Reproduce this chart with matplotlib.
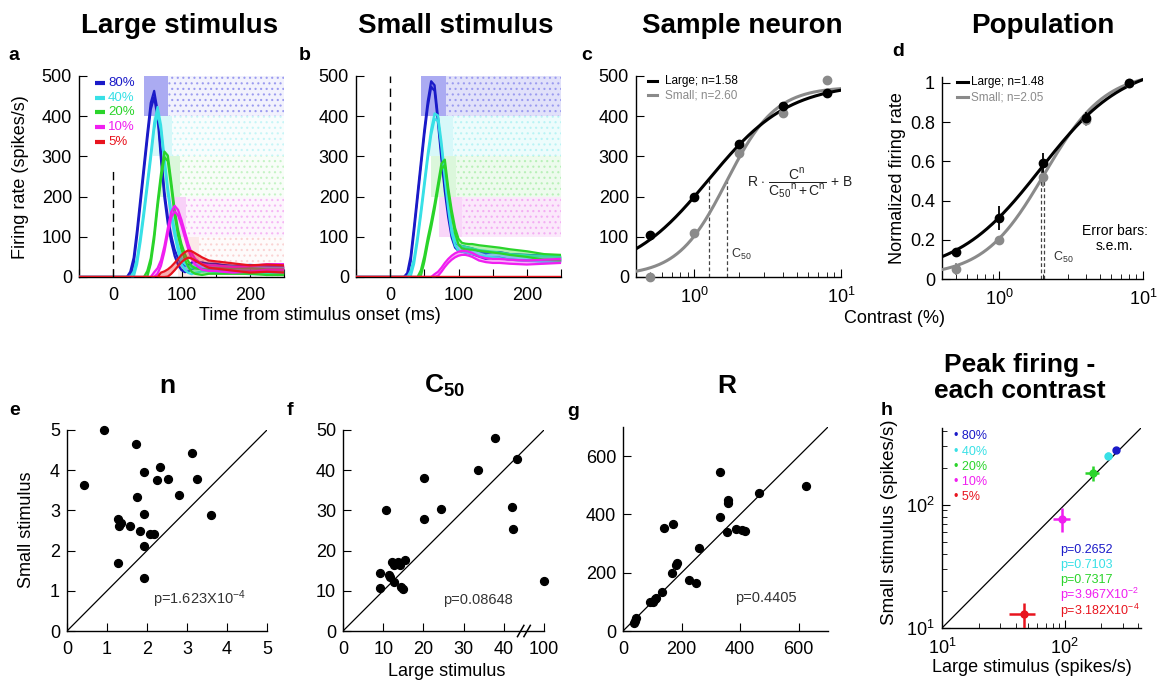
import numpy as np
import matplotlib
matplotlib.use("Agg")
import matplotlib.pyplot as plt
from matplotlib.patches import Rectangle
from matplotlib.colors import to_rgb
from matplotlib.ticker import FixedLocator, NullFormatter, LogLocator, FixedFormatter

plt.rcParams.update({
    'font.family': ['Liberation Sans', 'DejaVu Sans'],
    'mathtext.fontset': 'custom',
    'mathtext.rm': 'Liberation Sans',
    'mathtext.it': 'Liberation Sans:italic',
    'mathtext.bf': 'Liberation Sans:bold',
    'axes.linewidth': 1.0,
    'xtick.direction': 'in',
    'ytick.direction': 'in',
    'xtick.major.size': 6,
    'ytick.major.size': 6,
    'xtick.minor.size': 3.5,
    'ytick.minor.size': 3.5,
    'xtick.major.pad': 7,
    'ytick.major.pad': 5,
    'xtick.labelsize': 13,
    'ytick.labelsize': 13,
    'hatch.linewidth': 0.8,
})

# ---------------------------------------------------------------- data
contrast_labels = ['80%', '40%', '20%', '10%', '5%']

# firing-rate time courses (spikes/s), sampled at these times (ms)
time_ms = [-50, 0, 20, 25, 30, 35, 40, 45, 50, 55, 60, 65, 70, 75, 80, 85, 90, 95,
           100, 105, 110, 115, 120, 130, 140, 150, 160, 175, 200, 225, 250]

large_80 = [0, 0, 0, 5, 40, 110, 190, 270, 350, 425, 455, 405, 300, 205, 140, 95, 60, 38,
            25, 20, 22, 28, 30, 28, 25, 25, 22, 20, 22, 20, 18]
large_40 = [0, 0, 0, 0, 5, 40, 95, 160, 230, 300, 375, 415, 370, 290, 215, 155, 110, 70,
            40, 25, 18, 15, 18, 22, 22, 20, 18, 18, 15, 15, 15]
large_20 = [0, 0, 0, 0, 0, 0, 0, 0, 8, 40, 100, 180, 250, 305, 295, 230, 160, 110,
            75, 50, 32, 20, 15, 12, 15, 15, 15, 15, 15, 12, 12]
large_10 = [0, 0, 0, 0, 0, 0, 0, 0, 0, 0, 5, 15, 35, 70, 115, 155, 170, 160,
            135, 105, 75, 52, 38, 25, 22, 22, 20, 18, 20, 25, 25]
large_5 = [0, 0, 0, 0, 0, 0, 0, 0, 0, 0, 0, 0, 2, 5, 10, 17, 26, 36,
           46, 53, 57, 55, 50, 40, 32, 30, 28, 25, 20, 22, 20]

small_80 = [0, 0, 0, 3, 45, 120, 200, 280, 360, 430, 480, 470, 390, 300, 220, 155, 105, 80,
            72, 70, 68, 66, 64, 58, 52, 55, 55, 50, 48, 46, 45]
small_40 = [0, 0, 0, 0, 8, 40, 95, 160, 230, 300, 360, 400, 395, 330, 250, 175, 115, 85,
            72, 70, 68, 66, 64, 60, 58, 56, 54, 50, 47, 45, 45]
small_20 = [0, 0, 0, 0, 0, 0, 0, 10, 45, 90, 130, 175, 225, 275, 285, 215, 160, 115,
            88, 78, 76, 75, 75, 72, 70, 68, 66, 62, 57, 50, 48]
small_10 = [0, 0, 0, 0, 0, 0, 0, 0, 0, 0, 0, 2, 8, 18, 30, 40, 48, 54,
            58, 60, 60, 58, 55, 46, 42, 40, 40, 38, 36, 38, 40]
small_5 = [0] * 31

large_sem = [8, 8, 7, 7, 9]
small_sem = [7, 7, 7, 5, 0]

# spike raster windows (ms): burst onset, burst end; sparse firing continues to 250 ms
large_burst_start = [45, 58, 68, 80, 95]
large_burst_end = [80, 86, 98, 106, 125]
small_burst_start = [45, 58, 60, 72]
small_burst_end = [82, 92, 96, 105]

# contrast response (sample neuron and population)
contrast = [0.5, 1, 2, 4, 8]
sample_large = [104, 198, 330, 425, 458]
sample_large_err = [8, 10, 12, 9, 10]
sample_small = [0, 110, 308, 408, 490]
sample_small_err = [4, 8, 10, 8, 8]
pop_large = [0.14, 0.31, 0.59, 0.82, 1.0]
pop_large_err = [0.02, 0.06, 0.05, 0.03, 0.01]
pop_small = [0.05, 0.20, 0.52, 0.81, 1.0]
pop_small_err = [0.03, 0.02, 0.05, 0.03, 0.01]

# Naka-Rushton fits: R, C50, n, B
sample_fit_large = (480, 1.25, 1.58, 2)
sample_fit_small = (470, 1.66, 2.60, 3)
pop_fit_large = (1.087, 1.94, 1.48, 0.018)
pop_fit_small = (1.044, 2.06, 2.05, 0.013)

# fitted parameters per neuron, large vs small stimulus
n_large = [0.92, 0.42, 1.72, 3.12, 1.93, 2.33, 2.25, 2.52, 3.25, 1.75, 2.81, 1.93, 3.61,
           1.27, 1.29, 1.35, 1.58, 1.83, 2.08, 2.18, 1.92, 1.27, 1.93]
n_small = [5.0, 3.62, 4.64, 4.42, 3.96, 4.09, 3.76, 3.77, 3.78, 3.34, 3.38, 2.90, 2.89,
           2.78, 2.60, 2.68, 2.60, 2.49, 2.41, 2.41, 2.11, 1.68, 1.31]
c50_large = [10.6, 20.2, 20.2, 24.5, 33.5, 37.8, 43.4, 42.1, 42.3, 100, 9.3, 9.1, 11.4,
             11.6, 12.2, 12.6, 13.6, 14.2, 15.5, 12.6, 14.5, 14.9]
c50_small = [30.1, 38.0, 27.8, 30.3, 40.0, 47.9, 42.7, 30.9, 25.3, 12.5, 14.5, 10.6, 13.9,
             13.5, 17.1, 16.4, 17.1, 16.4, 17.7, 12.1, 10.9, 10.4]
r_large = [332, 625, 464, 358, 359, 330, 140, 170, 356, 386, 407, 415, 259, 184, 180, 168,
           227, 250, 134, 114, 102, 91, 109, 45, 36, 40]
r_small = [546, 498, 472, 451, 438, 392, 354, 366, 340, 350, 346, 344, 286, 232, 225, 198,
           175, 163, 135, 114, 101, 101, 109, 43, 26, 34]

# peak firing per contrast (mean +/- s.e.m.)
peak_large = [265, 228, 169, 96, 46.5]
peak_large_err = [12, 15, 22, 15, 11]
peak_small = [280, 251, 181, 77, 12.9]
peak_small_err = [13, 17, 26, 17, 3]
peak_p = ['p=0.2652', 'p=0.7103', 'p=0.7317', r'p=3.967X10$^{-2}$', r'p=3.182X10$^{-4}$']

# ---------------------------------------------------------------- style
COLORS = ['#1a1ac8', '#38e0e6', '#2ad42a', '#f01ef0', '#e8141e']
LIGHT = ['#9c9cf0', '#a8f0f2', '#a6eca6', '#f2a4f2', '#f5a8a8']
GRAY = '#8a8a8a'


def tint(c, f):
    r = np.array(to_rgb(c))
    return tuple(r + (1 - r) * f)


W, H = 1161, 685
fig = plt.figure(figsize=(W / 100, H / 100), dpi=100)


def panel(x0, y0, x1, y1):
    ax = fig.add_axes([x0 / W, 1 - y1 / H, (x1 - x0) / W, (y1 - y0) / H])
    ax.spines['top'].set_visible(False)
    ax.spines['right'].set_visible(False)
    ax.patch.set_alpha(0)
    return ax


def ftext(px, py, s, **kw):
    fig.text(px / W, 1 - py / H, s, **kw)


def naka_rushton(c, R, c50, n, B):
    c = np.asarray(c, dtype=float)
    return R * c ** n / (c50 ** n + c ** n) + B


def psth_panel(ax, traces, sems, starts, ends, dense_alpha, sparse_alpha, dot_tint):
    t = np.array(time_ms, dtype=float)
    for i, (s, e) in enumerate(zip(starts, ends)):
        y0 = (4 - i) * 100
        ax.add_patch(Rectangle((s, y0), e - s, 100, facecolor=LIGHT[i],
                               alpha=dense_alpha[i], lw=0, zorder=1))
        ax.add_patch(Rectangle((e, y0), 250 - e, 100, facecolor=LIGHT[i],
                               alpha=sparse_alpha[i], lw=0, zorder=1))
        ax.add_patch(Rectangle((e, y0), 250 - e, 100, facecolor='none',
                               edgecolor=tint(LIGHT[i], dot_tint[i]), hatch='...',
                               lw=0, zorder=1))
    for i, (vals, sem) in enumerate(zip(traces, sems)):
        v = np.array(vals, dtype=float)
        up = v + sem * (v > 0)
        lo = np.clip(v - sem, 0, None)
        ax.fill_between(t, lo, up, color=COLORS[i], alpha=0.35, lw=0, zorder=3)
        ax.plot(t, up, color=COLORS[i], lw=1.6, zorder=3)
        ax.plot(t, lo, color=COLORS[i], lw=1.6, zorder=3)
    ax.set_xlim(-50, 250)
    ax.set_ylim(0, 500)
    ax.xaxis.set_major_locator(FixedLocator([-50, 0, 50, 100, 150, 200, 250]))
    ax.xaxis.set_major_formatter(FixedFormatter(['', '0', '', '100', '', '200', '']))
    ax.set_yticks([0, 100, 200, 300, 400, 500])


# ---------------------------------------------------------------- a: large stimulus
ax_a = panel(79, 76, 284, 277)
psth_panel(ax_a, [large_80, large_40, large_20, large_10, large_5], large_sem,
           large_burst_start, large_burst_end,
           [0.85, 0.45, 0.4, 0.5, 0.25], [0.12, 0.08, 0.08, 0.1, 0.04],
           [0.0, 0.35, 0.35, 0.2, 0.5])
ax_a.plot([0, 0], [0, 275], color='k', lw=1.0, ls=(0, (6, 4)), zorder=4)
for i, lab in enumerate(contrast_labels):
    yy = [0.965, 0.891, 0.821, 0.746, 0.672][i]
    ax_a.plot([0.078, 0.128], [yy, yy], transform=ax_a.transAxes, color=COLORS[i],
              lw=3, solid_capstyle='butt', zorder=6)
    ax_a.text(0.142, yy, lab, transform=ax_a.transAxes, color=COLORS[i], fontsize=9.5,
              va='center', ha='left', zorder=6)

# ---------------------------------------------------------------- b: small stimulus
ax_b = panel(356, 76, 561, 277)
psth_panel(ax_b, [small_80, small_40, small_20, small_10, small_5], small_sem,
           small_burst_start, small_burst_end,
           [0.85, 0.45, 0.4, 0.45], [0.3, 0.2, 0.2, 0.25],
           [0.0, 0.2, 0.2, 0.1])
ax_b.plot([0, 0], [0, 500], color='k', lw=1.0, ls=(0, (6, 4)), zorder=4)

ftext(21, 177, 'Firing rate (spikes/s)', rotation=90, fontsize=13, ha='center', va='center')
ftext(320, 315, 'Time from stimulus onset (ms)', fontsize=13, ha='center', va='center')


# ---------------------------------------------------------------- c, d: contrast response
def contrast_panel(ax, large, large_err, small, small_err, fit_large, fit_small, ymax):
    cc = np.logspace(np.log10(0.4), 1, 300)
    ax.plot(cc, naka_rushton(cc, *fit_small), color=GRAY, lw=2.2, zorder=3)
    ax.plot(cc, naka_rushton(cc, *fit_large), color='k', lw=2.2, zorder=3)
    ax.errorbar(contrast, small, yerr=small_err, fmt='o', color=GRAY, ms=6,
                elinewidth=1.3, capsize=0, zorder=4, clip_on=False)
    ax.errorbar(contrast, large, yerr=large_err, fmt='o', color='k', ms=6,
                elinewidth=1.3, capsize=0, zorder=4, clip_on=False)
    for fit in (fit_large, fit_small):
        c50 = fit[1]
        ax.plot([c50, c50], [0, naka_rushton(c50, *fit)], color='#444', lw=0.9,
                ls=(0, (3, 2)), zorder=2)
    ax.set_xscale('log')
    ax.set_xlim(0.4, 10)
    ax.set_ylim(0, ymax)
    ax.xaxis.set_major_locator(LogLocator(base=10, numticks=5))
    ax.xaxis.set_minor_locator(LogLocator(base=10, subs=np.arange(2, 10), numticks=10))
    ax.xaxis.set_minor_formatter(NullFormatter())


ax_c = panel(636, 76, 841, 277)
contrast_panel(ax_c, sample_large, sample_large_err, sample_small, sample_small_err,
               sample_fit_large, sample_fit_small, 500)
ax_c.set_yticks([0, 100, 200, 300, 400, 500])
for yy, lab, col in [(0.975, 'Large; n=1.58', 'k'), (0.905, 'Small; n=2.60', GRAY)]:
    ax_c.plot([0.059, 0.103], [yy, yy], transform=ax_c.transAxes, color=col, lw=2.2)
    ax_c.text(0.14, yy, lab, transform=ax_c.transAxes, color=col, fontsize=8.5,
              va='center', ha='left')
ax_c.text(0.8, 0.468, r'R $\cdot$ $\dfrac{\mathregular{C^n}}{\mathregular{C_{50}{}^n + C^n}}$ + B',
          transform=ax_c.transAxes, fontsize=10, ha='center', va='center', color='#222')
ax_c.text(0.462, 0.11, r'C$_{50}$', transform=ax_c.transAxes, fontsize=9,
          ha='left', va='center', color='#333')

ax_d = panel(942, 77, 1143, 279)
contrast_panel(ax_d, pop_large, pop_large_err, pop_small, pop_small_err,
               pop_fit_large, pop_fit_small, 1.03)
ax_d.set_yticks([0, 0.2, 0.4, 0.6, 0.8, 1.0])
ax_d.set_yticklabels(['0', '0.2', '0.4', '0.6', '0.8', '1'])
for yy, lab, col in [(0.975, 'Large; n=1.48', 'k'), (0.90, 'Small; n=2.05', GRAY)]:
    ax_d.plot([0.075, 0.13], [yy, yy], transform=ax_d.transAxes, color=col, lw=2.2)
    ax_d.text(0.145, yy, lab, transform=ax_d.transAxes, color=col, fontsize=8.5,
              va='center', ha='left')
ax_d.text(0.86, 0.2, 'Error bars:\ns.e.m.', transform=ax_d.transAxes, fontsize=10,
          ha='center', va='center', linespacing=1.15)
ax_d.text(0.55, 0.109, r'C$_{50}$', transform=ax_d.transAxes, fontsize=9,
          ha='left', va='center', color='#333')

ftext(898, 178, 'Normalized firing rate', rotation=90, fontsize=13, ha='center', va='center')
ftext(894, 319, 'Contrast (%)', fontsize=13, ha='center', va='center')

# ---------------------------------------------------------------- e: exponent n
ax_e = panel(67, 430, 267, 631)
ax_e.plot([0, 5], [0, 5], color='k', lw=0.9)
ax_e.scatter(n_large, n_small, s=32, color='k', zorder=3, clip_on=False)
ax_e.set_xlim(0, 5)
ax_e.set_ylim(0, 5)
ax_e.set_xticks(range(6))
ax_e.set_yticks(range(6))
ax_e.text(2.15, 0.8, r'p=1.623X10$^{-4}$', fontsize=10.5, color='#333', va='center')
ftext(27, 530, 'Small stimulus', rotation=90, fontsize=13, ha='center', va='center')

# ---------------------------------------------------------------- f: C50 (broken axis)
ax_f = panel(343, 430, 544, 631)


def c50_axis(v):
    v = np.asarray(v, dtype=float)
    return np.where(v > 45, 45 + (v - 45) * 5 / 55, v)


ax_f.plot([0, 50], [0, 50], color='k', lw=0.9)
ax_f.scatter(c50_axis(c50_large), c50_small, s=32, color='k', zorder=3, clip_on=False)
ax_f.set_xlim(0, 50)
ax_f.set_ylim(0, 50)
ax_f.set_xticks([0, 10, 20, 30, 40, 50])
ax_f.set_xticklabels(['0', '10', '20', '30', '40', '100'])
ax_f.set_yticks([0, 10, 20, 30, 40, 50])
for xb in (44.2, 45.8):
    ax_f.plot([xb - 0.8, xb + 0.8], [-1.4, 1.4], color='k', lw=1.1, clip_on=False, zorder=5)
ax_f.text(24.9, 7.7, 'p=0.08648', fontsize=10.5, color='#333', va='center')
ftext(447, 672, 'Large stimulus', fontsize=13, ha='center', va='center')

# ---------------------------------------------------------------- g: R
ax_g = panel(623, 427, 828, 631)
ax_g.plot([0, 700], [0, 700], color='k', lw=0.9)
ax_g.scatter(r_large, r_small, s=32, color='k', zorder=3, clip_on=False)
ax_g.set_xlim(0, 700)
ax_g.set_ylim(0, 700)
ax_g.set_xticks([0, 200, 400, 600])
ax_g.set_yticks([0, 200, 400, 600])
ax_g.text(382, 113, 'p=0.4405', fontsize=10.5, color='#333', va='center')

# ---------------------------------------------------------------- h: peak firing
ax_h = panel(942, 428, 1141, 628)
ax_h.plot([10, 420], [10, 420], color='k', lw=0.9)
for i in range(5):
    ax_h.errorbar(peak_large[i], peak_small[i], xerr=peak_large_err[i], yerr=peak_small_err[i],
                  fmt='o', color=COLORS[i], ms=5, elinewidth=1.8, capsize=0, zorder=3)
ax_h.set_xscale('log')
ax_h.set_yscale('log')
ax_h.set_xlim(10, 420)
ax_h.set_ylim(10, 420)
for axis in (ax_h.xaxis, ax_h.yaxis):
    axis.set_major_locator(LogLocator(base=10, numticks=5))
    axis.set_minor_locator(LogLocator(base=10, subs=np.arange(2, 10), numticks=10))
    axis.set_minor_formatter(NullFormatter())
for i, lab in enumerate(contrast_labels):
    yy = [0.96, 0.88, 0.805, 0.73, 0.655][i]
    ax_h.text(0.06, yy, '\u2022 ' + lab, transform=ax_h.transAxes, color=COLORS[i],
              fontsize=9, va='center', ha='left')
    ax_h.text(0.593, [0.39, 0.315, 0.24, 0.165, 0.085][i], peak_p[i],
              transform=ax_h.transAxes, color=COLORS[i], fontsize=9, va='center', ha='left')
ftext(890, 522, 'Small stimulus (spikes/s)', rotation=90, fontsize=13.5, ha='center', va='center')
ftext(1032, 667, 'Large stimulus (spikes/s)', fontsize=13, ha='center', va='center')

# ---------------------------------------------------------------- titles and panel letters
for x, s in [(180, 'Large stimulus'), (456, 'Small stimulus'), (742, 'Sample neuron'),
             (1043, 'Population')]:
    ftext(x, 26, s, fontsize=20, fontweight='bold', ha='center', va='center')
for x, s in [(167, 'n'), (727, 'R')]:
    ftext(x, 386, s, fontsize=19, fontweight='bold', ha='center', va='center')
ftext(445, 386, r'$\mathbf{C_{50}}$', fontsize=19, ha='center', va='center')
ftext(1020, 378, 'Peak firing -\neach contrast', fontsize=19, fontweight='bold',
      ha='center', va='center', linespacing=1.1)
for x, y, s in [(14, 55, 'a'), (305, 55, 'b'), (587, 55, 'c'), (898, 52, 'd'),
                (15, 410, 'e'), (290, 410, 'f'), (573, 411, 'g'), (887, 410, 'h')]:
    ftext(x, y, s, fontsize=14, fontweight='bold', ha='center', va='center')

fig.savefig('out.png', dpi=100)
